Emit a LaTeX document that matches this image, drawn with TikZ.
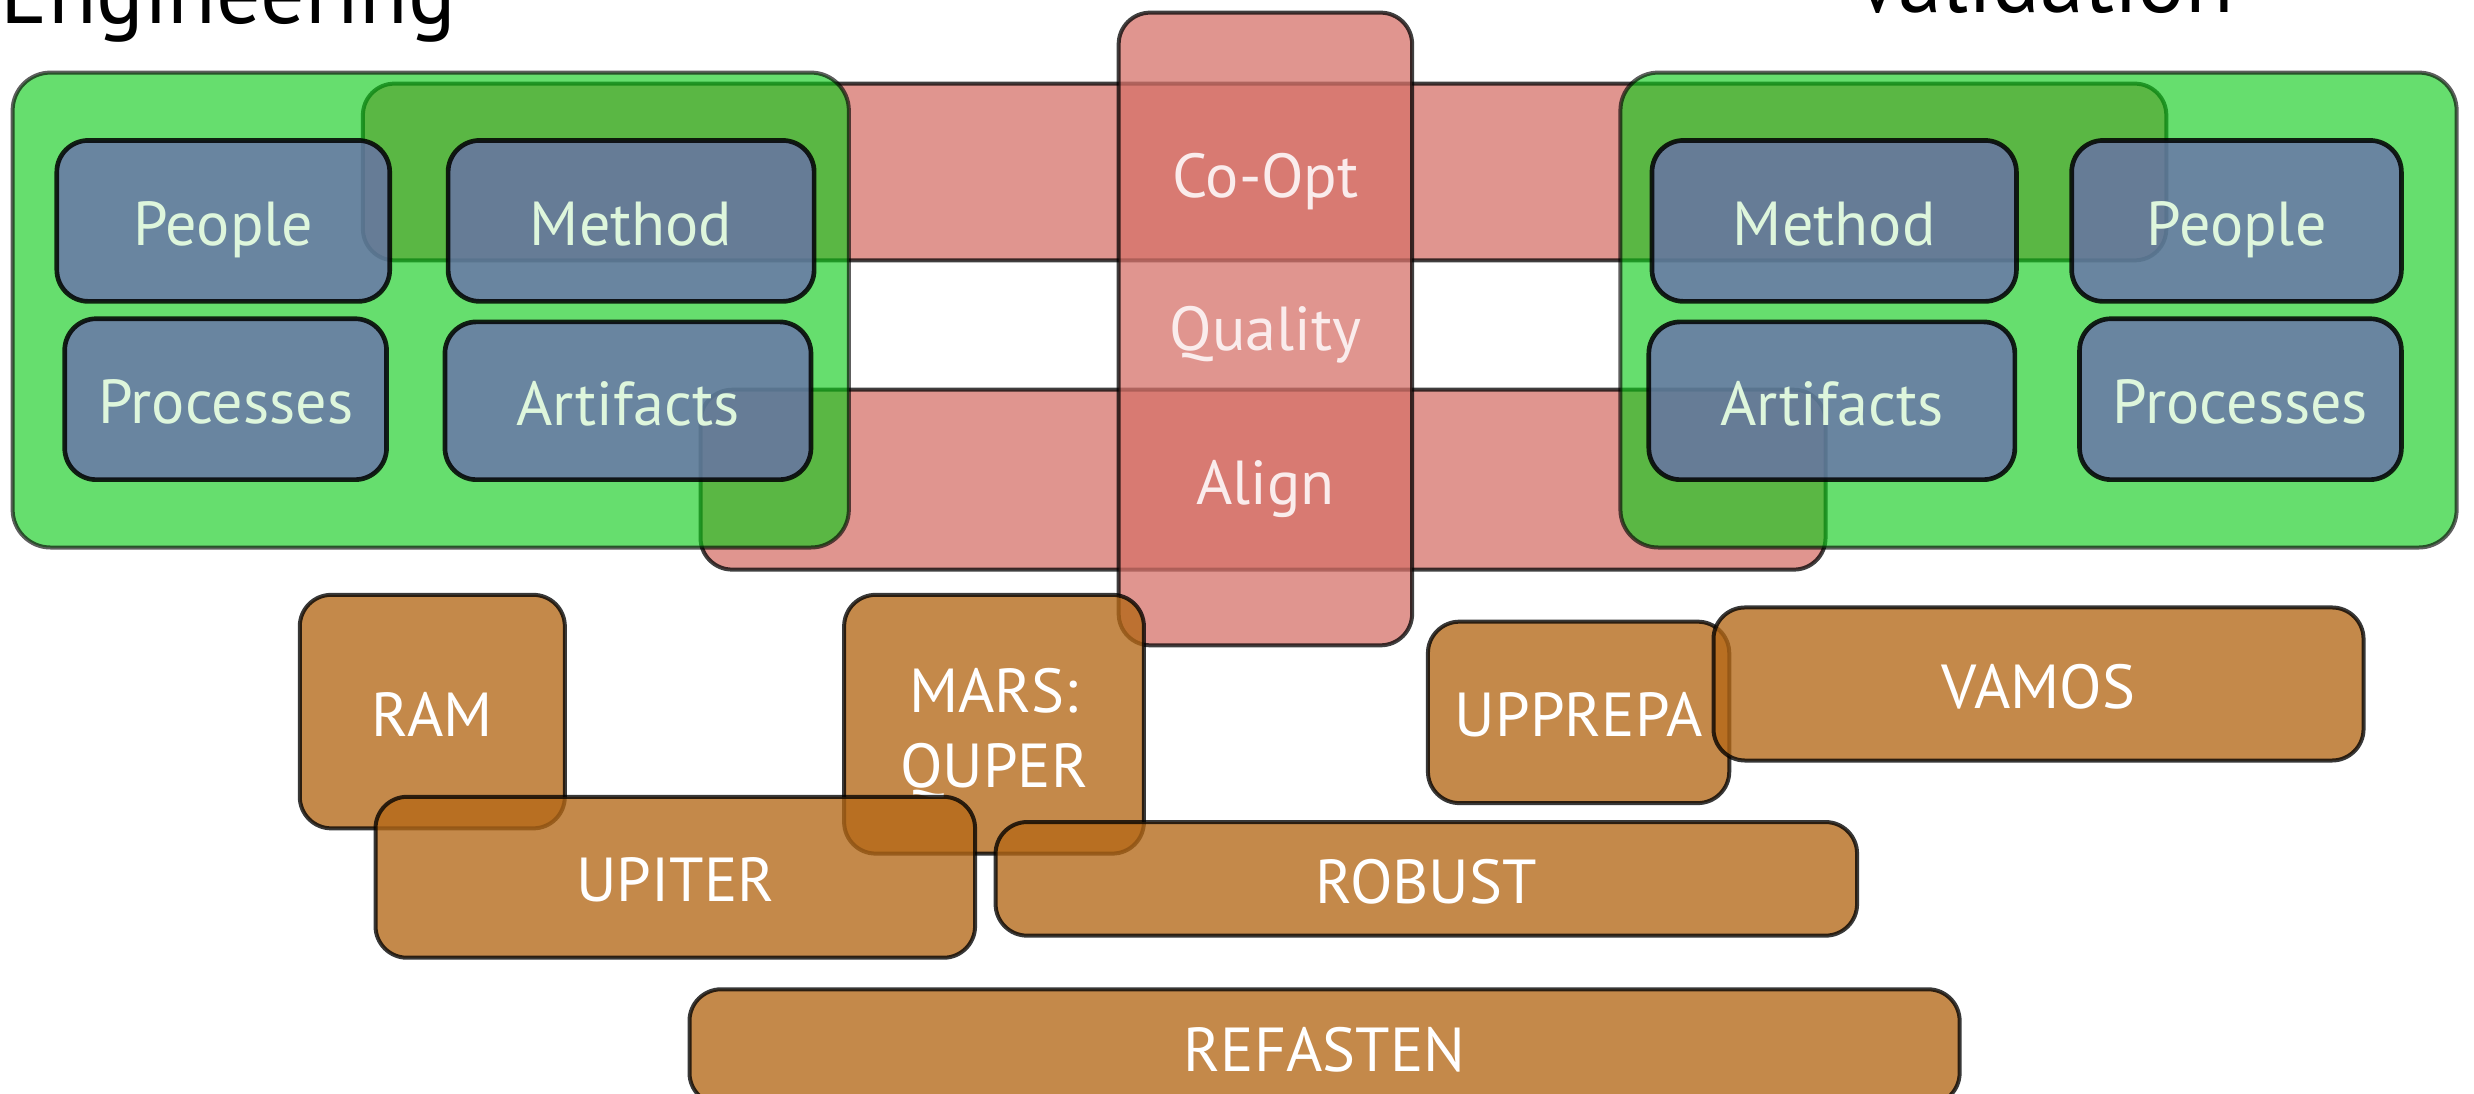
\documentclass[tikz,border=0pt]{standalone}
\usepackage{fontspec}
\setmainfont{PT Sans}

\definecolor{grnfill}{RGB}{13,203,25}
\definecolor{redfill}{RGB}{213,113,105}
\definecolor{bluefill}{RGB}{106,108,174}
\definecolor{orgfill}{RGB}{180,104,23}
\definecolor{bluetext}{RGB}{222,246,220}
\definecolor{redtext}{RGB}{250,236,236}

% a rounded box given by its two corners: style, name, x1, y1, x2, y2, text
\newcommand\pbox[7]{%
  \node[#1, minimum width={(#5-#3)*0.025cm}, minimum height={(#6-#4)*0.025cm}]
    (#2) at ({(#3+#5)/2},{(#4+#6)/2}) {#7};}

\tikzset{
  basebox/.style={inner sep=0pt, outer sep=0pt, draw=black, align=center,
    text opacity=1, font=\fontsize{28}{34}\selectfont,
    text height=22pt, text depth=0pt},
  zone/.style={basebox, fill=grnfill, fill opacity=0.63, draw opacity=0.63,
    line width=1.8pt, rounded corners=0.6cm},
  band/.style={basebox, fill=redfill, fill opacity=0.75, draw opacity=0.75,
    line width=1.8pt, rounded corners=0.5cm},
  facet/.style={basebox, fill=bluefill, fill opacity=0.78, draw opacity=0.85,
    line width=2.1pt, rounded corners=0.5cm, text=bluetext},
  project/.style={basebox, fill=orgfill, fill opacity=0.78, draw opacity=0.78,
    line width=1.8pt, rounded corners=0.5cm, text=white},
  axislabel/.style={inner sep=0pt, text=redtext, anchor=base,
    font=\fontsize{28}{34}\selectfont},
  heading/.style={inner sep=0pt, font=\fontsize{40}{46}\selectfont}
}

\begin{document}
\begin{tikzpicture}[x=0.025cm, y=-0.025cm]
\useasboundingbox (0,0) rectangle (1568,693);

% headings
\node[heading, anchor=base west] (eng) at (0,14.7) {Engineering};
\node[heading, anchor=base] (val) at (1295,8) {Validation};

% red bands and the central column
\pbox{band}{coopt}{230}{53}{1373}{165}{}
\pbox{band}{align}{444}{247}{1157}{361}{}
\pbox{band}{axis}{709}{8}{895}{409}{}

% green areas
\pbox{zone}{engzone}{8}{46}{538}{347}{}
\pbox{zone}{valzone}{1027}{46}{1557}{347}{}

% facets of the engineering side
\pbox{facet}{epeople}{36}{89}{247}{191}{People}
\pbox{facet}{emethod}{284}{89}{516}{191}{Method}
\pbox{facet}{eproc}{41}{202}{245}{304}{Processes}
\pbox{facet}{eart}{282}{204}{514}{304}{Artifacts}

% facets of the validation side
\pbox{facet}{vmethod}{1047}{89}{1278}{191}{Method}
\pbox{facet}{vpeople}{1313}{89}{1522}{191}{People}
\pbox{facet}{vart}{1045}{204}{1277}{304}{Artifacts}
\pbox{facet}{vproc}{1318}{202}{1522}{304}{Processes}

% labels on the column
\node[axislabel] (lcoopt) at (802,125) {Co-Opt};
\node[axislabel] (lqual) at (802,222) {Quality};
\node[axislabel] (lalign) at (802,320) {Align};

% projects
\pbox{project}{ram}{190}{377}{358}{525}{RAM}
\pbox{project, text height=0pt, text depth=0pt}{mars}{535}{377}{725}{541}
  {\raisebox{-11pt}[0pt][0pt]{\begin{tabular}{@{}c@{}}MARS:\\QUPER\end{tabular}}}
\pbox{project}{upiter}{238}{505}{618}{607}{UPITER}
\pbox{project}{robust}{631}{521}{1177}{593}{ROBUST}
\pbox{project}{upprepa}{905}{394}{1096}{509}{UPPREPA}
\pbox{project}{vamos}{1086}{385}{1498}{482}{VAMOS}
\pbox{project}{refasten}{437}{627}{1242}{700}{REFASTEN}
\end{tikzpicture}
\end{document}
